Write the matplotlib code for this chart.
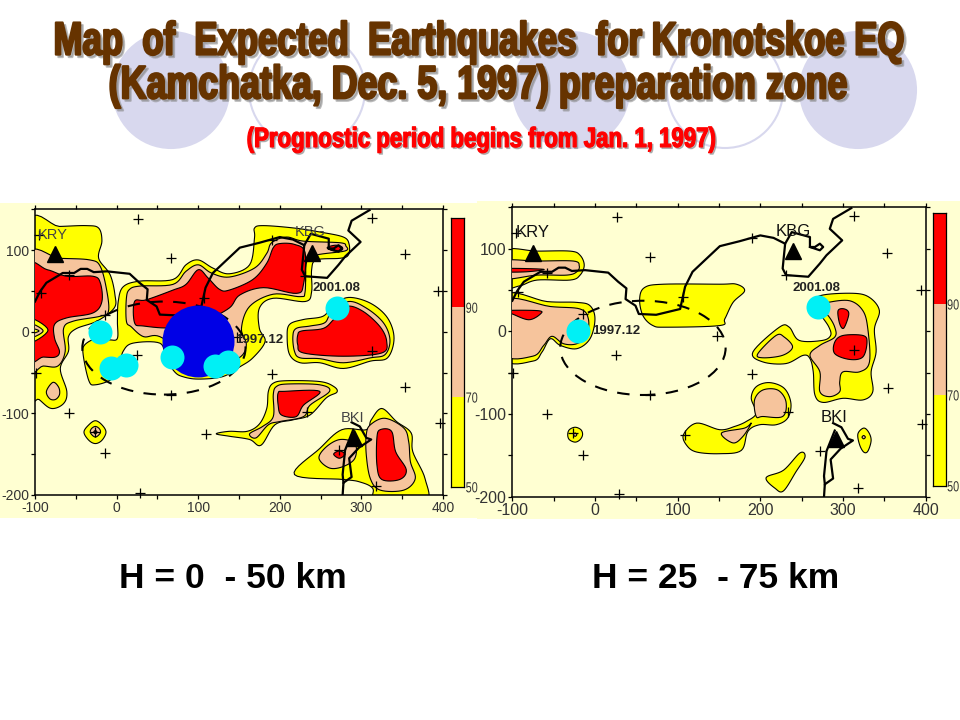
import numpy as np
import matplotlib
matplotlib.use("Agg")
import matplotlib.pyplot as plt
import matplotlib.patheffects as pe
from matplotlib.patches import Polygon, Rectangle, Ellipse, Circle
from matplotlib.ticker import MultipleLocator
from matplotlib.transforms import Affine2D

plt.rcParams["axes.unicode_minus"] = False

YEL, PNK, RED, BG = "#FFFF00", "#F6C49C", "#FF0000", "#FFFFD2"
SANS = ["Liberation Sans", "DejaVu Sans"]

title_lines = ["Map  of  Expected  Earthquakes  for Kronotskoe EQ",
               "(Kamchatka, Dec. 5, 1997) preparation zone"]
subtitle = "(Prognostic period begins from Jan. 1, 1997)"
depth_labels = ["H = 0  - 50 km", "H = 25  - 75 km"]

levels = [50, 70, 90, 110]
level_colors = [YEL, PNK, RED]
level_ticks = [50, 70, 90]

stations = [("KRY", -75.5, 95), ("KBG", 240, 97), ("BKI", 291, -130)]

epicentres_marks = [
    (26.5, 138), (66.5, 90), (-95, 119), (-58, 70), (-14, 21), (-93, 48), (25, -29), (107, 41),
    (148, -6), (-99, -51), (66.5, -77), (-58, -100), (-26, -123), (-14, -149), (28.5, -197),
    (109, -125), (313, 139), (353, 95), (394, 50), (190, 113), (313, -23), (190, -52),
    (354, -68), (233, -98), (396, -112), (272, -145), (318, -189), (231, 68),
]

coast_main = [(-100, 37), (-94, 49), (-86, 60), (-66, 72), (-52, 72), (-44, 77), (-36, 77), (-28, 73),
              (-12, 74), (16, 71), (28, 60), (38, 52), (37, 39), (49, 31), (53, 21), (74, 20),
              (103, 27), (109, 54), (118, 72), (135, 88), (151, 103), (175, 109), (200, 116),
              (216, 113), (230, 106), (227, 76), (231, 68), (258, 66), (272, 82), (280, 92),
              (299, 110), (284, 124), (288, 136), (310, 149)]
coast_kbg = [(230, 106), (238, 120), (260, 114), (260, 102), (266, 102), (272, 106), (276, 102),
             (272, 98), (260, 102)]
coast_south_a = [(288, -111), (298, -116), (306, -130), (312, -132), (297, -142), (285, -155),
                 (288, -178), (278, -185), (277, -200)]
coast_south_b = [(290, -120), (280, -145), (277, -175), (278, -185)]

ellipse_center = (58, -20)
ellipse_width, ellipse_height = 200, 114

# ---------- left panel contour outlines ----------
L_yellow = [
    [(-110, 128), (-70, 129), (-37, 130), (-22, 127), (-18, 111), (-22, 90), (-8, 70), (-2, 45), (-3, 29), (-24, 13),
     (-49, 4), (-59, -6), (-59, -24), (-69, -45), (-61, -73), (-65, -88), (-80, -94), (-95, -83), (-110, -70)],
    [(2, 37), (8, 55), (28, 62), (69, 64), (85, 82), (100, 88), (118, 78), (138, 71), (163, 82), (169, 115),
     (169, 127), (180, 130), (218, 127), (250, 122), (278, 116), (285, 107), (284, 94), (274, 90), (245, 88),
     (239, 76), (239, 49), (231, 37), (192, 41), (175, 29), (175, 4), (182, -12), (167, -32), (151, -43),
     (130, -55), (100, -58), (81, -55), (71, -49), (60, -32), (53, -14), (20, -14), (8, -24), (3, -42),
     (-6, -58), (-26, -65), (-34, -60), (-41, -28), (-39, -16), (-24, -8), (-8, -10), (1, -8), (1, 13)],
    [(209, -6), (212, 9), (229, 15), (253, 19), (265, 32), (284, 42), (311, 35), (332, 17), (340, -8),
     (332, -32), (311, -36), (278, -45), (249, -38), (225, -38), (212, -28)],
    [(122, -125), (138, -122), (160, -122), (175, -113), (184, -94), (186, -73), (192, -63), (208, -60),
     (249, -61), (266, -67), (270, -74), (257, -81), (237, -102), (216, -108), (194, -114), (177, -139),
     (163, -132), (138, -128)],
    [(218, -175), (249, -143), (276, -120), (306, -120), (312, -108), (325, -94), (343, -110), (361, -124),
     (363, -147), (378, -180), (378, -210), (318, -210), (314, -192), (298, -184), (278, -181)],
    [(-26, -109), (-18, -114), (-13, -123), (-18, -133), (-26, -137), (-34, -133), (-40, -123), (-34, -114)],
]
L_pink = [
    [(-110, 92), (-70, 90), (-33, 88), (-20, 80), (-12, 50), (-10, 25), (-20, 19), (-53, 13), (-65, 4), (-63, -24),
     (-72, -42), (-90, -42), (-110, -42)],
    [(12, 41), (16, 52), (29, 56), (69, 58), (85, 74), (100, 82), (116, 72), (138, 67), (169, 78), (184, 96),
     (190, 109), (208, 116), (229, 111), (274, 109), (281, 105), (280, 99), (245, 94), (233, 86), (231, 49),
     (225, 43), (192, 46), (163, 31), (153, 4), (159, -16), (150, -32), (120, -40), (90, -30), (53, -6),
     (33, -6), (18, 6), (12, 13)],
    [(216, -6), (220, 4), (237, 7), (255, 11), (263, 23), (284, 37), (306, 29), (327, 11), (335, -10),
     (329, -28), (311, -32), (278, -38), (249, -33), (225, -32), (218, -24)],
    [(192, -77), (196, -67), (210, -64), (249, -65), (261, -73), (237, -90), (229, -104), (200, -110),
     (186, -114), (171, -130), (163, -125), (179, -116), (192, -104)],
    [(248, -155), (257, -141), (274, -132), (292, -137), (292, -155), (278, -165), (261, -167)],
    [(306, -126), (311, -114), (329, -106), (352, -118), (358, -135), (360, -159), (366, -180), (352, -194),
     (323, -194), (311, -180), (306, -151)],
    [(-78, -62), (-71, -68), (-70, -77), (-75, -83), (-82, -82), (-86, -73)],
    [(-26, -116), (-21, -119), (-20, -124), (-26, -129), (-32, -124), (-31, -119)],
]
L_red = [
    [(-110, 78), (-85, 76), (-61, 68), (-29, 68), (-20, 60), (-18, 37), (-29, 23), (-61, 17), (-76, 9), (-76, -8),
     (-70, -24), (-75, -31), (-90, -31), (-110, -30)],
    [(22, 37), (36, 39), (69, 51), (85, 58), (100, 76), (112, 66), (126, 52), (138, 51), (167, 64), (184, 84),
     (192, 103), (200, 108), (218, 107), (231, 97), (229, 58), (220, 47), (180, 54), (151, 45), (138, 29),
     (110, 15), (70, 5), (33, 7), (22, 11)],
    [(222, -4), (227, 1), (253, 4), (266, 15), (282, 31), (302, 25), (323, 6), (331, -12), (325, -26),
     (278, -30), (229, -26), (222, -16)],
    [(198, -75), (206, -73), (249, -73), (229, -90), (220, -104), (202, -102), (198, -90)],
    [(319, -130), (323, -120), (337, -122), (342, -147), (355, -169), (347, -181), (325, -181), (319, -163)],
    [(266, -150), (273, -146), (280, -150), (273, -155)],
    [(258, 103), (268, 106), (276, 104), (276, 100), (266, 99)],
    [(-26, -121), (-24, -123), (-26, -125), (-28, -123)],
]
L_hole_yellow = [[(-110, 17), (-84, 2), (-110, -14)]]
L_hole_pink = [[(-110, 11), (-90, 1), (-110, -8)]]
L_hole_pale = [[(-110, 5), (-95, 1), (-110, -3)]]

# ---------- right panel contour outlines ----------
R_yellow = [
    [(-110, 97), (-70, 97), (-30, 97), (-18, 92), (-13, 80), (-18, 68), (-30, 62), (-70, 62), (-91, 55), (-110, 55)],
    [(-110, 43), (-58, 36), (-22, 35), (-6, 31), (0, 15), (-6, -9), (-22, -21), (-42, -17), (-54, -9),
     (-64, -25), (-75, -36), (-110, -32)],
    [(54, 39), (60, 53), (83, 57), (151, 57), (171, 57), (181, 49), (167, 35), (157, 15), (151, 7), (87, 5),
     (70, 7), (58, 19)],
    [(107, -125), (123, -111), (151, -119), (169, -115), (183, -109), (195, -99), (189, -81), (195, -67),
     (211, -62), (229, -69), (237, -87), (233, -105), (219, -113), (199, -113), (185, -121), (177, -144),
     (151, -148), (123, -146), (111, -138)],
    [(272, 43), (312, 46), (332, 41), (344, 25), (338, 3), (340, -25), (334, -49), (336, -73), (324, -83),
     (300, -81), (276, -86), (266, -77), (264, -49), (260, -33), (252, -29), (231, -39), (203, -37), (191, -25),
     (223, 5), (235, 5), (247, -11), (275, -11), (285, -5), (283, 5), (275, 17), (265, 30)],
    [(207, -177), (228, -168), (248, -147), (254, -152), (243, -170), (228, -193), (218, -190)],
    [(325, -117), (331, -122), (334, -132), (330, -145), (325, -146), (320, -137), (318, -124)],
    [(-24, -116), (-17, -119), (-15, -125), (-18, -131), (-24, -134), (-31, -131), (-33, -125), (-31, -119)],
]
R_pink = [
    [(-110, 85), (-70, 85), (-26, 85), (-19, 79), (-22, 72), (-34, 68), (-70, 68), (-110, 64)],
    [(-110, 37), (-54, 30), (-18, 27), (-8, 15), (-10, -5), (-22, -15), (-38, -15), (-52, -6), (-62, -17),
     (-75, -30), (-110, -27)],
    [(195, -103), (193, -83), (203, -71), (221, -71), (231, -85), (227, -103), (203, -103)],
    [(153, -123), (181, -117), (189, -111), (179, -127), (167, -135)],
    [(282, 35), (308, 37), (324, 25), (330, 3), (332, -37), (320, -49), (300, -49), (296, -61), (296, -73),
     (284, -79), (272, -73), (272, -49), (260, -29), (272, -17), (290, -7), (290, 5), (282, 19), (270, 30)],
    [(197, -27), (219, -5), (229, -7), (239, -19), (227, -29), (203, -32)],
    [(325, -126), (327, -128), (325, -130), (323, -128)],
    [(-24, -123), (-22, -125), (-24, -127), (-26, -125)],
]
R_red = [
    [(-110, 76), (-62, 75), (-83, 72), (-110, 72)],
    [(-110, 25), (-69, 25), (-66, 21), (-80, 14), (-100, 21)],
    [(290, -13), (300, -5), (324, -5), (329, -13), (324, -31), (308, -34), (290, -27)],
    [(294, 25), (302, 27), (307, 21), (301, 4), (296, 9)],
]

L_cyan = [(-20, 0), (-7, -44), (12, -41), (68, -31), (120, -42), (137, -37), (270, 29)]
R_cyan = [(-20, 0), (270, 29)]
blue_quake = (100, -11)

panels = [
    dict(box=(35, 209.3, 443, 495), ylim=(-200, 150), bar=(450.7, 217.7, 464.3, 487),
         yellow=L_yellow, pink=L_pink, red=L_red, cyan=L_cyan, blue=True,
         st_labels=[("KRY", -78, 118), ("KBG", 237, 122), ("BKI", 289, -106)], st_size=10.5, st_col="#444444",
         dates=[("1997.12", 175, -10), ("2001.08", 270, 54)], tick=10, bg=(0, 203, 482, 518)),
    dict(box=(512.3, 207.3, 925.7, 496.7), ylim=(-200, 150), bar=(933.3, 213.3, 945.7, 486),
         yellow=R_yellow, pink=R_pink, red=R_red, cyan=R_cyan, blue=False,
         st_labels=[("KRY", -76, 120), ("KBG", 240, 121), ("BKI", 289, -104)], st_size=12, st_col="#111111",
         dates=[("1997.12", 26, 0), ("2001.08", 268, 53)], tick=11.5, bg=(477, 201, 960, 519)),
]

W, H = 960, 720
fig = plt.figure(figsize=(W / 100, H / 100), dpi=100, facecolor="white")


class TallText(pe.AbstractPathEffect):
    """Draw text stretched vertically about its own middle, giving a condensed look."""

    def __init__(self, sy, stroke=0.0, shadow=None):
        super().__init__()
        self.sy, self.stroke, self.shadow = sy, stroke, shadow

    def draw_path(self, renderer, gc, tpath, affine, rgbFace=None):
        ext = affine.transform_path(tpath).get_extents()
        ym = 0.5 * (ext.y0 + ext.y1)
        tall = affine + Affine2D().translate(0, -ym).scale(1, self.sy).translate(0, ym)
        if self.shadow:
            g = renderer.new_gc(); g.copy_properties(gc)
            g.set_linewidth(self.stroke); g.set_foreground("#888888"); g.set_alpha(0.55)
            renderer.draw_path(g, tpath, tall + Affine2D().translate(*self.shadow), (0.53, 0.53, 0.53))
            g.restore()
        g = renderer.new_gc(); g.copy_properties(gc)
        g.set_linewidth(self.stroke); g.set_foreground(rgbFace)
        renderer.draw_path(g, tpath, tall, rgbFace)
        g.restore()


def px_axes(x0, y0, x1, y1, **kw):
    return fig.add_axes([x0 / W, 1 - y1 / H, (x1 - x0) / W, (y1 - y0) / H], **kw)


def smooth(pts, n=8):
    p = np.array(pts, float)
    out = []
    N = len(p)
    for i in range(N):
        p0, p1, p2, p3 = p[(i - 1) % N], p[i], p[(i + 1) % N], p[(i + 2) % N]
        for t in np.linspace(0, 1, n, endpoint=False):
            out.append(0.5 * (2 * p1 + (p2 - p0) * t + (2 * p0 - 5 * p1 + 4 * p2 - p3) * t ** 2
                              + (3 * p1 - p0 - 3 * p2 + p3) * t ** 3))
    return np.array(out)


# decorative backdrop of the slide
back = px_axes(0, 0, W, H, zorder=0)
back.set_xlim(0, W); back.set_ylim(H, 0); back.axis("off")
for cx, filled in [(171, True), (307, False), (571, True), (725, False), (858, True)]:
    back.add_patch(Circle((cx, 90), 58, fc="#D8D8EE" if filled else "white",
                          ec="#D8D8EE", lw=1.5))
for p in panels:
    x0, y0, x1, y1 = p["bg"]
    back.add_patch(Rectangle((x0, y0), x1 - x0, y1 - y0, fc=BG, ec="none"))

for idx, p in enumerate(panels):
    ax = px_axes(*p["box"], zorder=2)
    ax.set_facecolor(BG)
    ax.set_xlim(-100, 400); ax.set_ylim(*p["ylim"])
    for group, col, z in [(p["yellow"], YEL, 2), (p["pink"], PNK, 3), (p["red"], RED, 4)]:
        for poly in group:
            ax.add_patch(Polygon(smooth(poly), closed=True, fc=col, ec="black", lw=0.8, zorder=z))
    if idx == 0:
        for group, col in [(L_hole_yellow, YEL), (L_hole_pink, PNK), (L_hole_pale, YEL)]:
            for poly in group:
                ax.add_patch(Polygon(smooth(poly), closed=True, fc=col, ec="black", lw=0.8, zorder=5))

    ax.add_patch(Ellipse(ellipse_center, ellipse_width, ellipse_height, fc="none", ec="black",
                         lw=1.5, ls=(0, (6, 5)), zorder=6))
    for line in (coast_main, coast_kbg, coast_south_a, coast_south_b):
        a = np.array(line)
        ax.plot(a[:, 0], a[:, 1], color="black", lw=1.6, zorder=7, solid_joinstyle="round")
    m = np.array(epicentres_marks)
    ax.plot(m[:, 0], m[:, 1], "+", color="black", ms=6.5, mew=0.9, zorder=8, clip_on=False, ls="none")
    for name, sx, sy in stations:
        ax.plot([sx], [sy], "^", color="black", ms=11, zorder=9)
    for name, tx, ty in p["st_labels"]:
        ax.text(tx, ty, name, family=SANS, fontsize=p["st_size"], color=p["st_col"], ha="center", va="center", zorder=10)
    if p["blue"]:
        ax.scatter(*blue_quake, s=(72 * 0.72) ** 2, color="#0000E6", zorder=11, lw=0)
    cy = np.array(p["cyan"])
    ax.scatter(cy[:, 0], cy[:, 1], s=(24 * 0.72) ** 2, color="#00F0F5", zorder=12, lw=0)
    for txt, tx, ty in p["dates"]:
        ax.text(tx, ty, txt, family=SANS, fontweight="bold", fontsize=9.5, color="#222222",
                ha="center", va="center", zorder=13)

    ax.set_xticks([-100, 0, 100, 200, 300, 400])
    ax.set_yticks([-200, -100, 0, 100])
    ax.xaxis.set_minor_locator(MultipleLocator(50))
    ax.yaxis.set_minor_locator(MultipleLocator(50))
    ax.tick_params(which="both", direction="out", length=3, width=0.9, top=True, right=True,
                   labelsize=p["tick"], pad=1.2, labelcolor="#333333")
    for lab in ax.get_xticklabels() + ax.get_yticklabels():
        lab.set_family(SANS)
    for s in ax.spines.values():
        s.set_linewidth(1.1)

    cb = px_axes(*p["bar"], zorder=2)
    cb.bar([0] * 3, np.diff(levels), bottom=levels[:-1], width=1, color=level_colors,
           edgecolor="black", linewidth=0.0, align="center")
    cb.set_xlim(-0.5, 0.5); cb.set_ylim(levels[0], levels[-1])
    cb.set_xticks([]); cb.set_yticks(level_ticks)
    cb.yaxis.tick_right()
    cb.tick_params(length=0, pad=1, labelsize=7.8, labelcolor="#333333")
    for lab in cb.get_yticklabels():
        lab.set_family(SANS)
        lab.set_path_effects([TallText(1.35)])
    for s in cb.spines.values():
        s.set_linewidth(0.9)

front = px_axes(0, 0, W, H, zorder=20)
front.set_xlim(0, W); front.set_ylim(H, 0); front.axis("off"); front.patch.set_alpha(0)


def headline(txt, cx, cy, size, col, sy, stroke, off):
    front.text(cx, cy, txt, family=SANS, fontweight="bold", fontsize=size, color=col, ha="center", va="center",
               path_effects=[TallText(sy, stroke, off)])


headline(title_lines[0], 479, 42, 25, "#663300", 1.34, 1.6, (2.5, -2.5))
headline(title_lines[1], 478, 86, 25.8, "#663300", 1.3, 1.6, (2.5, -2.5))
headline(subtitle, 481, 140, 16, "#FF0000", 1.25, 0.9, (1.5, -1.5))

for txt, cx in zip(depth_labels, (233, 716)):
    front.text(cx, 579, txt, family=SANS, fontweight="bold", fontsize=25.5, color="black", ha="center", va="center")

fig.savefig("out.png", dpi=100, facecolor="white")
